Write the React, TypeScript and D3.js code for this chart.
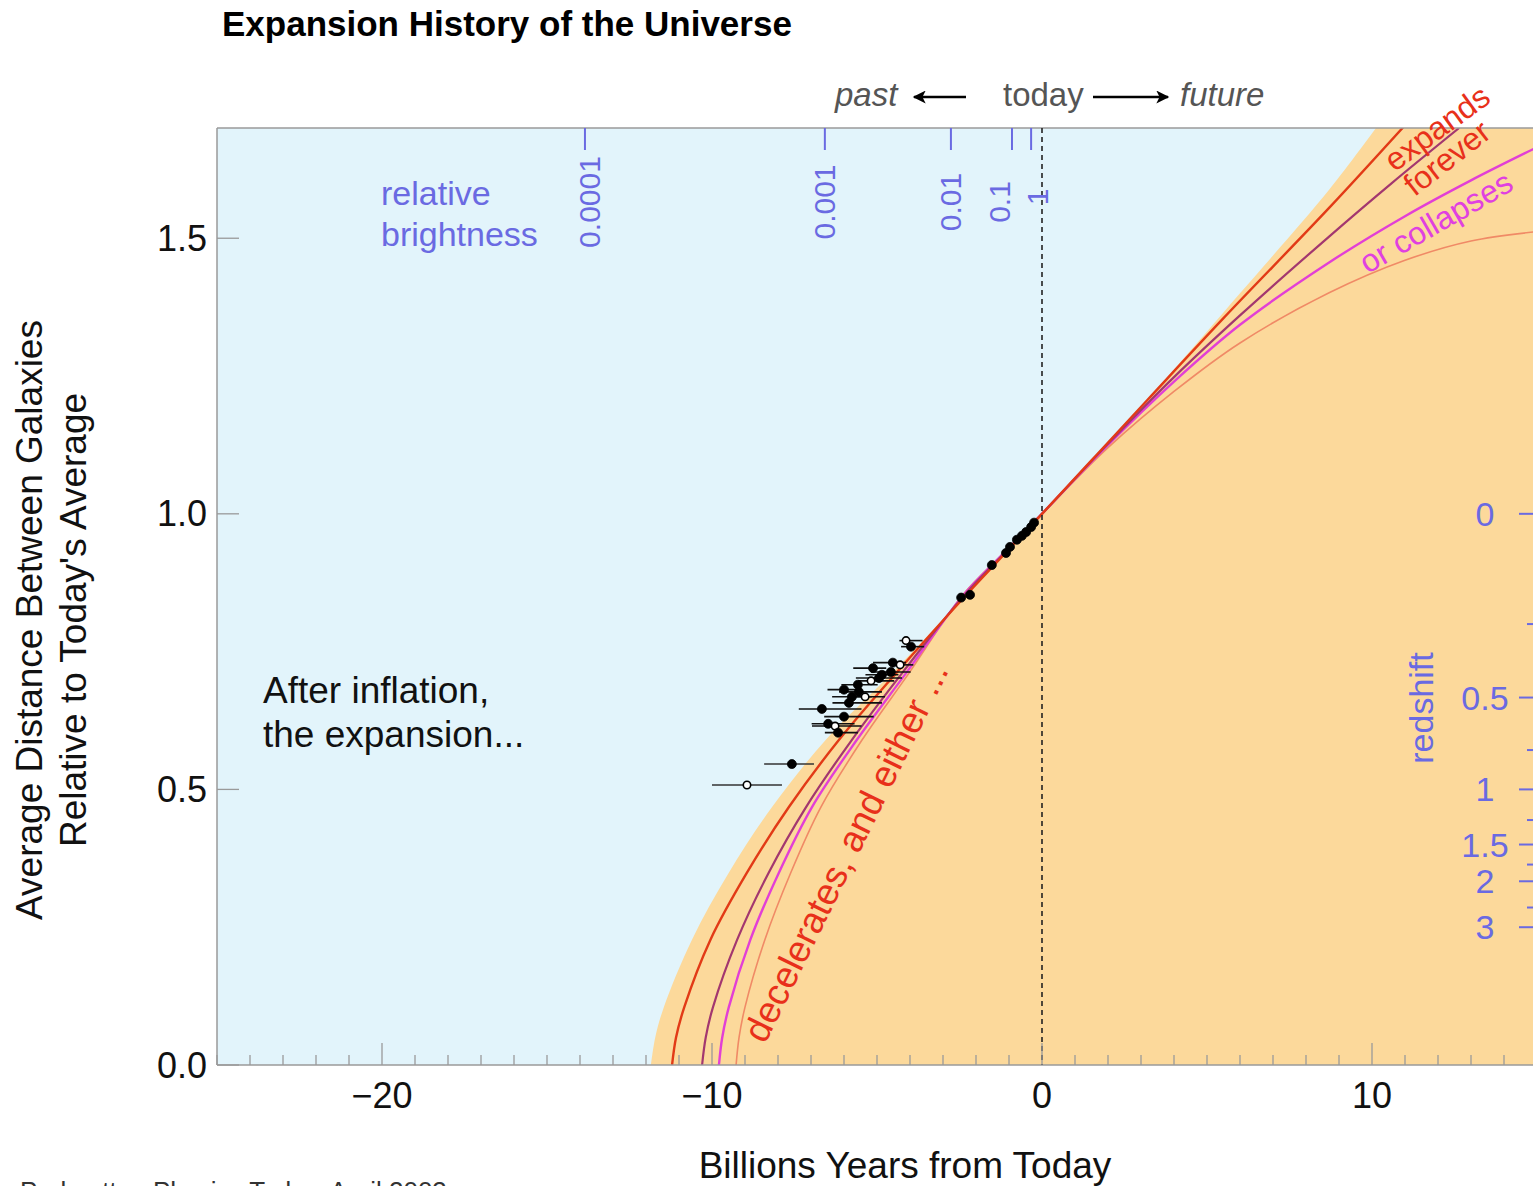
import React, { useEffect } from 'react';
import * as d3 from 'd3';

// ---------- data ----------
// time axis in billions of years from today, a = relative average distance
const envelopeT = [-11.85, -11.72, -11.46, -10.61, -9.5, -8.18, -6.55, -4.55, -2.4, -1.2, 0, 2, 4, 6, 8.7, 10.12];
const envelopeA = [0, 0.05, 0.105, 0.227, 0.348, 0.468, 0.59, 0.711, 0.846, 0.922, 1, 1.13, 1.262, 1.4, 1.588, 1.7];

const redT = [-11.21, -11.09, -10.84, -10.05, -8.95, -7.67, -6.15, -4.42, -2.4, -1.2, 0, 1.5, 3.2, 5.5, 8.7, 11.0];
const redA = [0, 0.05, 0.105, 0.227, 0.348, 0.468, 0.59, 0.711, 0.846, 0.923, 1, 1.097, 1.207, 1.355, 1.555, 1.705];

const purpleT = [-10.3, -10.19, -9.97, -9.24, -8.29, -7.15, -5.76, -4.24, -2.4, -1.2, 0, 2, 4, 6, 8.7, 10.6, 12.64];
const purpleA = [0, 0.05, 0.105, 0.227, 0.348, 0.468, 0.59, 0.711, 0.849, 0.925, 1, 1.127, 1.248, 1.36, 1.503, 1.6, 1.7];

const magentaT = [-9.79, -9.69, -9.49, -8.84, -7.98, -6.97, -5.61, -4.12, -2.4, -1.2, 0, 2, 4, 6, 8.7, 11, 13, 15];
const magentaA = [0, 0.05, 0.105, 0.227, 0.348, 0.468, 0.59, 0.711, 0.851, 0.926, 1, 1.125, 1.24, 1.343, 1.456, 1.54, 1.605, 1.665];

const salmonT = [-9.27, -9.18, -9.0, -8.4, -7.62, -6.7, -5.45, -4.03, -2.4, -1.2, 0, 2, 4, 6, 8.7, 11, 13, 15];
const salmonA = [0, 0.05, 0.105, 0.227, 0.348, 0.468, 0.59, 0.711, 0.853, 0.927, 1, 1.12, 1.222, 1.31, 1.401, 1.46, 1.495, 1.512];

// supernovae
const snT = [-8.94, -7.58, -6.67, -6.48, -6.27, -6.18, -6.0, -6.0, -5.85, -5.76, -5.58, -5.55, -5.36, -5.18, -5.12, -4.94, -4.85, -4.58, -4.52, -4.3, -4.12, -3.97,
  -2.45, -2.18, -1.52, -1.09, -0.97, -0.76, -0.61, -0.48, -0.33, -0.24];
const snA = [0.508, 0.546, 0.646, 0.619, 0.615, 0.603, 0.632, 0.681, 0.657, 0.668, 0.69, 0.677, 0.668, 0.697, 0.72, 0.702, 0.708, 0.713, 0.73, 0.726, 0.77, 0.759,
  0.848, 0.853, 0.907, 0.929, 0.94, 0.953, 0.96, 0.967, 0.976, 0.984];
const snErrLo = [1.06, 0.84, 0.7, 0.5, 0.7, 0.4, 0.6, 0.5, 0.5, 0.6, 0.5, 0.6, 0.4, 0.4, 0.6, 0.7, 0.5, 0.6, 0.6, 0.3, 0.2, 0.3,
  0, 0, 0, 0, 0, 0, 0, 0, 0, 0];
const snErrHi = [1.06, 0.67, 1.2, 0.8, 0.8, 0.6, 0.9, 0.5, 1.0, 0.6, 0.6, 0.7, 0.6, 0.7, 0.4, 0.7, 0.5, 0.6, 0.4, 0.4, 0.5, 0.4,
  0, 0, 0, 0, 0, 0, 0, 0, 0, 0];
const snOpen = [true, false, false, false, true, false, false, false, false, false, false, false, true, true, false, false, false, false, false, true, true, false,
  false, false, false, false, false, false, false, false, false, false];

// axes
const xMajorTicks = [-20, -10, 0, 10];
const yMajorTicks = [0, 0.5, 1.0, 1.5];
const brightnessLabels = ['0.0001', '0.001', '0.01', '0.1', '1'];
const brightnessTickT = [-13.85, -6.58, -2.76, -0.91, -0.33];
const brightnessLabelT = [-13.7, -6.6, -2.76, -1.3, -0.15];
const redshiftMajor = [0, 0.5, 1, 1.5, 2, 3];
const redshiftMinor = [0.25, 0.75, 1.25, 1.75, 2.5];

// ---------- layout ----------
const W = 1533;
const H = 1186;
const PL = 217, PT = 128, PB = 1065, PR = 1537;
const FONT = '"Liberation Sans", Arial, Helvetica, sans-serif';
const BLUE = '#6a6ae2';
const GREY_AX = '#9a9a9a';

const xs = d3.scaleLinear().domain([-25, 15]).range([PL, PR]);
const ys = d3.scaleLinear().domain([0, 1.7]).range([PB, PT]);

const zip = (t: number[], a: number[]) => t.map((v, i) => [v, a[i]] as [number, number]);
const lineGen = d3.line<[number, number]>().x(d => xs(d[0])).y(d => ys(d[1])).curve(d3.curveCatmullRom.alpha(0.5));

const envelopePath = (lineGen(zip(envelopeT, envelopeA)) || '') +
  `L${xs(15)},${ys(1.7)}L${xs(15)},${ys(0)}Z`;

export default function App() {
  useEffect(() => {
    document.body.style.margin = '0';
    document.body.style.overflow = 'hidden';
  }, []);

  const xMinor = d3.range(-25, 16, 1);

  return (
    <svg width={W} height={H} style={{ position: 'absolute', left: 0, top: 0, display: 'block', background: '#fff' }}
      fontFamily={FONT}>
      <defs>
        <clipPath id="plotclip">
          <rect x={PL} y={PT} width={PR - PL} height={PB - PT} />
        </clipPath>
        <marker id="ah" viewBox="0 0 10 10" refX="9" refY="5" markerWidth="20" markerHeight="13" orient="auto-start-reverse"
          markerUnits="userSpaceOnUse">
          <path d="M0,0 L10,5 L0,10 L2.5,5 z" fill="#000" />
        </marker>
      </defs>

      {/* title */}
      <text x={222} y={36} fontSize={35} fontWeight="bold" fill="#000">Expansion History of the Universe</text>

      {/* past / today / future */}
      <text x={835} y={106} fontSize={33} fontStyle="italic" fill="#555">past</text>
      <text x={1003} y={106} fontSize={33} fill="#555">today</text>
      <text x={1180} y={106} fontSize={33} fontStyle="italic" fill="#555">future</text>
      <line x1={966} y1={97} x2={914} y2={97} stroke="#000" strokeWidth={2.5} markerEnd="url(#ah)" />
      <line x1={1093} y1={97} x2={1168} y2={97} stroke="#000" strokeWidth={2.5} markerEnd="url(#ah)" />

      {/* plot background */}
      <rect x={PL} y={PT} width={PR - PL} height={PB - PT} fill="#e2f4fb" />
      <g clipPath="url(#plotclip)">
        <path d={envelopePath} fill="#fcd99b" />
        <path d={lineGen(zip(salmonT, salmonA)) || ''} fill="none" stroke="#f08a66" strokeWidth={1.6} />
        <path d={lineGen(zip(magentaT, magentaA)) || ''} fill="none" stroke="#e23fd6" strokeWidth={2.4} />
        <path d={lineGen(zip(purpleT, purpleA)) || ''} fill="none" stroke="#a3376f" strokeWidth={2.2} />
        <path d={lineGen(zip(redT, redA)) || ''} fill="none" stroke="#e23a16" strokeWidth={2.4} />
      </g>

      {/* frame */}
      <line x1={PL} y1={PT} x2={PR} y2={PT} stroke={GREY_AX} strokeWidth={1.5} />
      <line x1={PL} y1={PT} x2={PL} y2={PB} stroke={GREY_AX} strokeWidth={1.5} />
      <line x1={PL} y1={PB} x2={PR} y2={PB} stroke={GREY_AX} strokeWidth={1.5} />

      {/* today dashed line */}
      <line x1={xs(0)} y1={PT} x2={xs(0)} y2={PB} stroke="#222" strokeWidth={1.6} strokeDasharray="5,4" />

      {/* bottom ticks */}
      {xMinor.map(t => {
        const major = xMajorTicks.includes(t);
        return (
          <line key={'xt' + t} x1={xs(t)} x2={xs(t)} y1={PB} y2={PB - (major ? 22 : 10)} stroke={GREY_AX} strokeWidth={1.3} />
        );
      })}
      {xMajorTicks.map(t => (
        <text key={'xl' + t} x={xs(t)} y={1108} fontSize={36} textAnchor="middle" fill="#111">
          {t < 0 ? '\u2212' + Math.abs(t) : String(t)}
        </text>
      ))}
      <text x={905} y={1178} fontSize={37} textAnchor="middle" fill="#111">Billions Years from Today</text>

      {/* left ticks */}
      {yMajorTicks.map(v => (
        <g key={'yt' + v}>
          <line x1={PL} x2={PL + 22} y1={ys(v)} y2={ys(v)} stroke={GREY_AX} strokeWidth={1.3} />
          <text x={207} y={ys(v)} fontSize={36} textAnchor="end" dominantBaseline="central" fill="#111">{v.toFixed(1)}</text>
        </g>
      ))}
      <text transform="translate(42,620) rotate(-90)" fontSize={37} textAnchor="middle" fill="#111">Average Distance Between Galaxies</text>
      <text transform="translate(86,620) rotate(-90)" fontSize={37} textAnchor="middle" fill="#111">Relative to Today's Average</text>

      {/* relative brightness axis (top) */}
      {brightnessTickT.map((t, i) => (
        <line key={'bt' + i} x1={xs(t)} x2={xs(t)} y1={PT} y2={PT + 22} stroke={BLUE} strokeWidth={2} />
      ))}
      {brightnessLabels.map((l, i) => (
        <text key={'bl' + i} transform={`translate(${xs(brightnessLabelT[i])},${l === '1' ? 197 : 202}) rotate(-90)`}
          fontSize={30} textAnchor="middle" dominantBaseline="central" fill={BLUE}>{l}</text>
      ))}
      <text x={381} y={205} fontSize={34} fill={BLUE}>relative</text>
      <text x={381} y={246} fontSize={34} fill={BLUE}>brightness</text>

      {/* redshift axis (right) */}
      {redshiftMajor.map(z => (
        <g key={'zr' + z}>
          <line x1={1519} x2={PR} y1={ys(1 / (1 + z))} y2={ys(1 / (1 + z))} stroke={BLUE} strokeWidth={2} />
          <text x={1485} y={ys(1 / (1 + z))} fontSize={34} textAnchor="middle" dominantBaseline="central" fill={BLUE}>{String(z)}</text>
        </g>
      ))}
      {redshiftMinor.map(z => (
        <line key={'zm' + z} x1={1527} x2={PR} y1={ys(1 / (1 + z))} y2={ys(1 / (1 + z))} stroke={BLUE} strokeWidth={2} />
      ))}
      <text transform="translate(1421,708) rotate(-90)" fontSize={34} textAnchor="middle" dominantBaseline="central" fill={BLUE}>redshift</text>

      {/* supernova data */}
      <g>
        {snT.map((t, i) => (
          (snErrLo[i] > 0 || snErrHi[i] > 0) ? (
            <line key={'eb' + i} x1={xs(t - snErrLo[i])} x2={xs(t + snErrHi[i])} y1={ys(snA[i])} y2={ys(snA[i])}
              stroke={i < 2 ? '#333' : '#111'} strokeWidth={1.6} />
          ) : null
        ))}
        {snT.map((t, i) => (
          <circle key={'sn' + i} cx={xs(t)} cy={ys(snA[i])} r={snOpen[i] ? 3.7 : 4.5}
            fill={snOpen[i] ? '#fff' : '#000'} stroke="#000" strokeWidth={snOpen[i] ? 1.6 : 0.8} />
        ))}
      </g>

      {/* annotations */}
      <text x={263} y={703} fontSize={37} fill="#111">After inflation,</text>
      <text x={263} y={747} fontSize={37} fill="#111">the expansion...</text>
      <text transform="translate(846,852) rotate(-63.8)" fontSize={37} textAnchor="middle" dominantBaseline="central" fill="#e8301a">decelerates, and either ...</text>
      <text transform="translate(1437,128) rotate(-36)" fontSize={32} textAnchor="middle" dominantBaseline="central" fill="#e8301a">expands</text>
      <text transform="translate(1447,158) rotate(-38)" fontSize={32} textAnchor="middle" dominantBaseline="central" fill="#e8301a">forever</text>
      <text transform="translate(1436,222) rotate(-30)" fontSize={32} textAnchor="middle" dominantBaseline="central" fill="#e040e0">or collapses</text>

      {/* cut-off credit line */}
      <text x={20} y={1200} fontSize={26} fill="#333">Perlmutter, Physics Today, April 2003</text>
    </svg>
  );
}
